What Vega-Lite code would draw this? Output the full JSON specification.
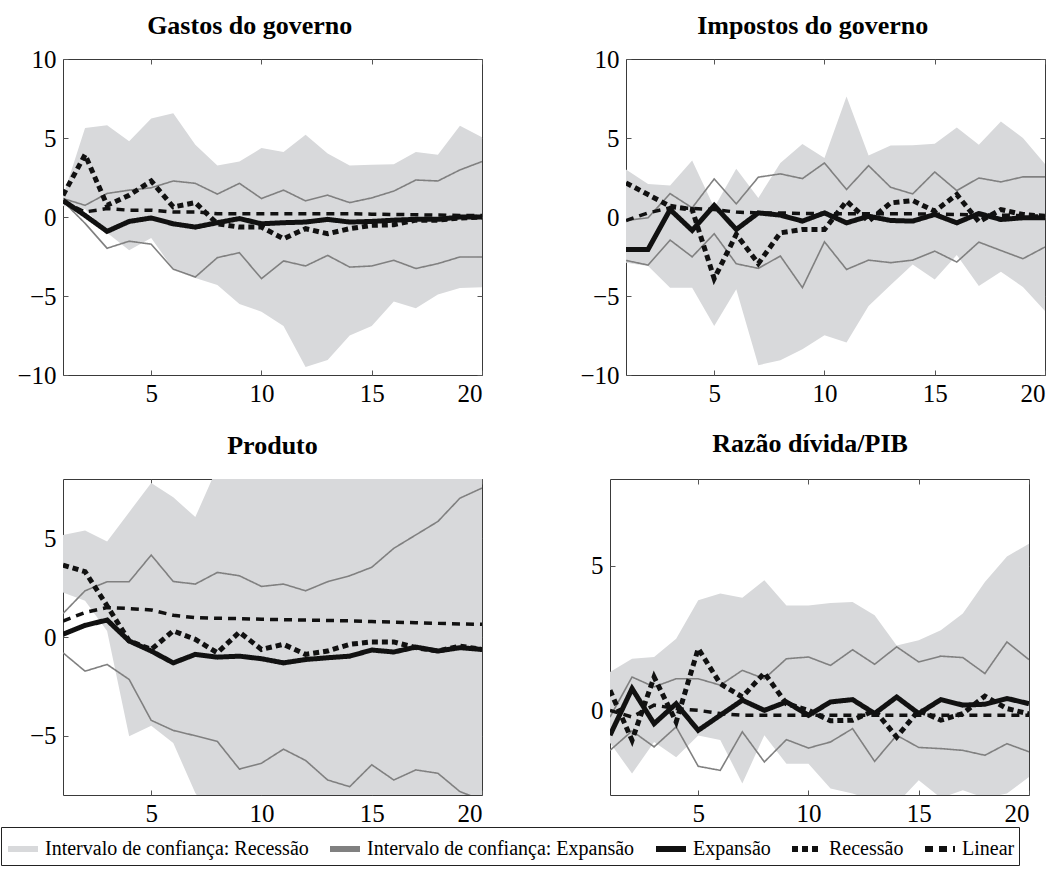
{
"$schema": "https://vega.github.io/schema/vega-lite/v6.json",
"padding": {"left": 0, "top": 12, "right": 5, "bottom": 5},
"background": "white",
"data": {"values": [
{"p":1,"t":1,"lo":0.7,"hi":1.3,"cu":1.17,"cl":1.0,"e":1.05,"r":1.38,"l":0.96},
{"p":1,"t":2,"lo":0.5,"hi":5.64,"cu":0.74,"cl":-0.4,"e":0.1,"r":3.94,"l":0.32},
{"p":1,"t":3,"lo":-1.0,"hi":5.81,"cu":1.49,"cl":-1.98,"e":-0.91,"r":0.74,"l":0.53},
{"p":1,"t":4,"lo":-2.1,"hi":4.79,"cu":1.70,"cl":-1.53,"e":-0.28,"r":1.38,"l":0.43},
{"p":1,"t":5,"lo":-1.33,"hi":6.23,"cu":1.85,"cl":-1.72,"e":-0.06,"r":2.28,"l":0.43},
{"p":1,"t":6,"lo":-3.3,"hi":6.57,"cu":2.28,"cl":-3.3,"e":-0.43,"r":0.64,"l":0.32},
{"p":1,"t":7,"lo":-3.86,"hi":4.57,"cu":2.13,"cl":-3.8,"e":-0.64,"r":0.91,"l":0.32},
{"p":1,"t":8,"lo":-4.3,"hi":3.26,"cu":1.45,"cl":-2.57,"e":-0.36,"r":-0.43,"l":0.21},
{"p":1,"t":9,"lo":-5.5,"hi":3.51,"cu":2.13,"cl":-2.26,"e":-0.1,"r":-0.64,"l":0.21},
{"p":1,"t":10,"lo":-6.0,"hi":4.36,"cu":1.17,"cl":-3.9,"e":-0.43,"r":-0.64,"l":0.21},
{"p":1,"t":11,"lo":-6.9,"hi":4.11,"cu":1.70,"cl":-2.78,"e":-0.36,"r":-1.38,"l":0.21},
{"p":1,"t":12,"lo":-9.5,"hi":5.21,"cu":1.02,"cl":-3.1,"e":-0.32,"r":-0.74,"l":0.21},
{"p":1,"t":13,"lo":-9.05,"hi":4.02,"cu":1.38,"cl":-2.43,"e":-0.15,"r":-1.06,"l":0.21},
{"p":1,"t":14,"lo":-7.5,"hi":3.26,"cu":0.91,"cl":-3.17,"e":-0.32,"r":-0.74,"l":0.21},
{"p":1,"t":15,"lo":-6.9,"hi":3.30,"cu":1.21,"cl":-3.1,"e":-0.28,"r":-0.53,"l":0.18},
{"p":1,"t":16,"lo":-5.35,"hi":3.34,"cu":1.64,"cl":-2.74,"e":-0.2,"r":-0.49,"l":0.16},
{"p":1,"t":17,"lo":-5.77,"hi":4.11,"cu":2.34,"cl":-3.26,"e":-0.15,"r":-0.2,"l":0.14},
{"p":1,"t":18,"lo":-4.9,"hi":3.94,"cu":2.28,"cl":-2.95,"e":-0.15,"r":-0.2,"l":0.12},
{"p":1,"t":19,"lo":-4.5,"hi":5.77,"cu":2.98,"cl":-2.53,"e":0.0,"r":-0.06,"l":0.1},
{"p":1,"t":20,"lo":-4.44,"hi":5.04,"cu":3.51,"cl":-2.53,"e":0.0,"r":0.0,"l":0.1},
{"p":2,"t":1,"lo":-2.9,"hi":3.0,"cu":-0.22,"cl":-2.75,"e":-2.05,"r":2.16,"l":-0.22},
{"p":2,"t":2,"lo":-3.1,"hi":2.09,"cu":-0.05,"cl":-3.04,"e":-2.05,"r":1.42,"l":0.26},
{"p":2,"t":3,"lo":-4.47,"hi":2.0,"cu":1.48,"cl":-1.46,"e":0.47,"r":0.68,"l":0.58},
{"p":2,"t":4,"lo":-4.47,"hi":3.57,"cu":0.58,"cl":-2.52,"e":-0.85,"r":0.47,"l":0.54},
{"p":2,"t":5,"lo":-6.9,"hi":0.6,"cu":2.41,"cl":-1.06,"e":0.73,"r":-3.9,"l":0.47},
{"p":2,"t":6,"lo":-4.58,"hi":3.06,"cu":0.83,"cl":-2.96,"e":-0.79,"r":-1.1,"l":0.31},
{"p":2,"t":7,"lo":-9.38,"hi":1.21,"cu":2.52,"cl":-3.25,"e":0.26,"r":-2.95,"l":0.26},
{"p":2,"t":8,"lo":-9.06,"hi":3.42,"cu":2.73,"cl":-2.47,"e":0.12,"r":-1.0,"l":0.26},
{"p":2,"t":9,"lo":-8.37,"hi":4.62,"cu":2.43,"cl":-4.47,"e":-0.26,"r":-0.79,"l":0.22},
{"p":2,"t":10,"lo":-7.48,"hi":3.74,"cu":3.42,"cl":-1.57,"e":0.26,"r":-0.79,"l":0.22},
{"p":2,"t":11,"lo":-7.95,"hi":7.63,"cu":1.74,"cl":-3.32,"e":-0.37,"r":1.0,"l":0.2},
{"p":2,"t":12,"lo":-5.63,"hi":3.9,"cu":3.25,"cl":-2.73,"e":0.05,"r":-0.26,"l":0.2},
{"p":2,"t":13,"lo":-4.3,"hi":4.52,"cu":1.88,"cl":-2.89,"e":-0.22,"r":0.89,"l":0.2},
{"p":2,"t":14,"lo":-3.0,"hi":4.54,"cu":1.46,"cl":-2.73,"e":-0.26,"r":1.04,"l":0.2},
{"p":2,"t":15,"lo":-3.95,"hi":4.64,"cu":2.85,"cl":-2.16,"e":0.16,"r":0.37,"l":0.18},
{"p":2,"t":16,"lo":-2.41,"hi":5.67,"cu":1.67,"cl":-2.85,"e":-0.37,"r":1.42,"l":0.16},
{"p":2,"t":17,"lo":-4.37,"hi":4.58,"cu":2.47,"cl":-1.59,"e":0.22,"r":-0.3,"l":0.14},
{"p":2,"t":18,"lo":-3.46,"hi":6.05,"cu":2.22,"cl":-2.12,"e":-0.16,"r":0.47,"l":0.12},
{"p":2,"t":19,"lo":-4.43,"hi":5.0,"cu":2.54,"cl":-2.64,"e":-0.05,"r":0.16,"l":0.08},
{"p":2,"t":20,"lo":-5.95,"hi":3.36,"cu":2.54,"cl":-1.9,"e":-0.05,"r":0.05,"l":0.05},
{"p":3,"t":1,"lo":2.25,"hi":5.17,"cu":1.19,"cl":-0.8,"e":0.14,"r":3.64,"l":0.81},
{"p":3,"t":2,"lo":1.83,"hi":5.39,"cu":2.34,"cl":-1.73,"e":0.59,"r":3.31,"l":1.24},
{"p":3,"t":3,"lo":0.3,"hi":4.83,"cu":2.8,"cl":-1.39,"e":0.86,"r":1.58,"l":1.49},
{"p":3,"t":4,"lo":-5.03,"hi":6.32,"cu":2.8,"cl":-2.15,"e":-0.2,"r":-0.2,"l":1.44},
{"p":3,"t":5,"lo":-4.49,"hi":7.8,"cu":4.15,"cl":-4.22,"e":-0.71,"r":-0.63,"l":1.37},
{"p":3,"t":6,"lo":-5.37,"hi":7.08,"cu":2.81,"cl":-4.73,"e":-1.31,"r":0.31,"l":1.1},
{"p":3,"t":7,"lo":-7.9,"hi":6.07,"cu":2.68,"cl":-5.0,"e":-0.88,"r":-0.12,"l":0.98},
{"p":3,"t":8,"lo":-9.5,"hi":8.6,"cu":3.27,"cl":-5.29,"e":-1.02,"r":-0.8,"l":0.95},
{"p":3,"t":9,"lo":-10.5,"hi":10.0,"cu":3.1,"cl":-6.69,"e":-0.97,"r":0.25,"l":0.93},
{"p":3,"t":10,"lo":-11.0,"hi":10.5,"cu":2.56,"cl":-6.39,"e":-1.1,"r":-0.63,"l":0.9},
{"p":3,"t":11,"lo":-11.0,"hi":11.0,"cu":2.68,"cl":-5.68,"e":-1.31,"r":-0.37,"l":0.88},
{"p":3,"t":12,"lo":-11.5,"hi":11.5,"cu":2.34,"cl":-6.25,"e":-1.14,"r":-0.88,"l":0.86},
{"p":3,"t":13,"lo":-12.0,"hi":12.0,"cu":2.8,"cl":-7.24,"e":-1.05,"r":-0.71,"l":0.84},
{"p":3,"t":14,"lo":-12.0,"hi":12.0,"cu":3.1,"cl":-7.58,"e":-0.97,"r":-0.37,"l":0.82},
{"p":3,"t":15,"lo":-12.5,"hi":12.5,"cu":3.53,"cl":-6.47,"e":-0.66,"r":-0.25,"l":0.78},
{"p":3,"t":16,"lo":-13.0,"hi":13.0,"cu":4.49,"cl":-7.24,"e":-0.76,"r":-0.25,"l":0.75},
{"p":3,"t":17,"lo":-13.0,"hi":13.0,"cu":5.17,"cl":-6.73,"e":-0.51,"r":-0.54,"l":0.72},
{"p":3,"t":18,"lo":-13.5,"hi":13.5,"cu":5.85,"cl":-6.9,"e":-0.71,"r":-0.71,"l":0.69},
{"p":3,"t":19,"lo":-14.0,"hi":14.0,"cu":7.03,"cl":-7.83,"e":-0.54,"r":-0.46,"l":0.66},
{"p":3,"t":20,"lo":-14.0,"hi":14.0,"cu":7.54,"cl":-8.25,"e":-0.63,"r":-0.63,"l":0.64},
{"p":4,"t":1,"lo":-1.1,"hi":1.34,"cu":-0.21,"cl":-1.36,"e":-0.84,"r":0.71,"l":0.02},
{"p":4,"t":2,"lo":-2.16,"hi":1.8,"cu":1.17,"cl":-0.69,"e":0.77,"r":-1.01,"l":-0.21},
{"p":4,"t":3,"lo":-1.07,"hi":1.86,"cu":0.83,"cl":-1.24,"e":-0.44,"r":1.17,"l":0.2},
{"p":4,"t":4,"lo":-1.6,"hi":2.49,"cu":1.11,"cl":-0.55,"e":0.25,"r":-0.38,"l":0.08},
{"p":4,"t":5,"lo":-0.85,"hi":3.82,"cu":1.11,"cl":-1.91,"e":-0.67,"r":2.15,"l":0.02},
{"p":4,"t":6,"lo":-1.0,"hi":4.05,"cu":0.89,"cl":-2.05,"e":-0.15,"r":0.94,"l":-0.09},
{"p":4,"t":7,"lo":-2.5,"hi":3.9,"cu":1.4,"cl":-0.72,"e":0.37,"r":0.48,"l":-0.15},
{"p":4,"t":8,"lo":-0.84,"hi":4.51,"cu":1.11,"cl":-1.76,"e":0.02,"r":1.31,"l":-0.15},
{"p":4,"t":9,"lo":-1.82,"hi":3.64,"cu":1.8,"cl":-0.99,"e":0.31,"r":0.25,"l":-0.15},
{"p":4,"t":10,"lo":-1.82,"hi":3.64,"cu":1.86,"cl":-1.28,"e":-0.15,"r":0.02,"l":-0.15},
{"p":4,"t":11,"lo":-2.68,"hi":3.72,"cu":1.57,"cl":-1.07,"e":0.31,"r":-0.34,"l":-0.15},
{"p":4,"t":12,"lo":-2.85,"hi":3.76,"cu":2.11,"cl":-0.61,"e":0.39,"r":-0.32,"l":-0.15},
{"p":4,"t":13,"lo":-3.1,"hi":3.3,"cu":1.61,"cl":-1.74,"e":-0.09,"r":0.02,"l":-0.15},
{"p":4,"t":14,"lo":-3.2,"hi":2.26,"cu":2.21,"cl":-0.84,"e":0.48,"r":-0.9,"l":-0.15},
{"p":4,"t":15,"lo":-2.39,"hi":2.44,"cu":1.69,"cl":-1.26,"e":-0.09,"r":0.02,"l":-0.15},
{"p":4,"t":16,"lo":-3.0,"hi":2.78,"cu":1.89,"cl":-1.3,"e":0.39,"r":-0.32,"l":-0.15},
{"p":4,"t":17,"lo":-2.74,"hi":3.36,"cu":1.84,"cl":-1.36,"e":0.2,"r":-0.09,"l":-0.15},
{"p":4,"t":18,"lo":-3.0,"hi":4.45,"cu":1.29,"cl":-1.53,"e":0.23,"r":0.51,"l":-0.15},
{"p":4,"t":19,"lo":-2.85,"hi":5.33,"cu":2.38,"cl":-1.13,"e":0.43,"r":0.08,"l":-0.15},
{"p":4,"t":20,"lo":-2.28,"hi":5.77,"cu":1.77,"cl":-1.41,"e":0.25,"r":-0.1,"l":-0.15}
]},
"spacing": 23,
"vconcat": [
{"hconcat": [
{"title": {"text": "Gastos do governo", "offset": 8, "frame": "bounds"}, "width": 419, "height": 316,
 "transform": [{"filter": "datum.p == 1"}],
 "layer": [
  {"mark": {"type": "area", "clip": true, "opacity": 1},
   "encoding": {
    "x": {"field": "t", "type": "quantitative", "scale": {"domain": [1,20], "nice": false, "zero": false}, "axis": {"orient": "bottom", "values": [5,10,15,20]}},
    "y": {"field": "lo", "type": "quantitative", "scale": {"domain": [-10,10], "nice": false, "zero": false}, "axis": {"orient": "left", "values": [-10,-5,0,5,10]}},
    "y2": {"field": "hi"},
    "color": {"datum": "Intervalo de confiança: Recessão", "type": "nominal",
      "scale": {"domain": ["Intervalo de confiança: Recessão","Intervalo de confiança: Expansão","Expansão","Recessão","Linear"], "range": ["#d8d9db","#808080","#111111","#111111","#111111"]},
      "legend": {"title": null, "orient": "none", "legendX": -62, "legendY": 768, "direction": "horizontal", "columns": 5, "padding": 4, "strokeColor": "#222222", "fillColor": "white", "columnPadding": 9, "labelOffset": 4, "symbolType": "stroke", "symbolSize": 900, "symbolStrokeWidth": 6, "labelFont": "Liberation Serif", "labelFontSize": 20, "labelColor": "black", "labelLimit": 400}}}},
  {"mark": {"type": "line", "clip": true, "strokeWidth": 1.6},
   "encoding": {
    "x": {"field": "t", "type": "quantitative", "scale": {"domain": [1,20], "nice": false, "zero": false}, "axis": {"orient": "top", "values": [5,10,15,20], "labels": false}},
    "y": {"field": "cu", "type": "quantitative", "scale": {"domain": [-10,10], "nice": false, "zero": false}, "axis": {"orient": "right", "values": [-10,-5,0,5,10], "labels": false}},
    "color": {"datum": "Intervalo de confiança: Expansão", "type": "nominal"},
    "strokeDash": {"datum": "Intervalo de confiança: Expansão", "type": "nominal", "scale": {"domain": ["Intervalo de confiança: Recessão","Intervalo de confiança: Expansão","Expansão","Recessão","Linear"], "range": [[1,0],[1,0],[1,0],[6,4],[8,6]]}}}},
  {"mark": {"type": "line", "clip": true, "strokeWidth": 1.6},
   "encoding": {
    "x": {"field": "t", "type": "quantitative", "scale": {"domain": [1,20], "nice": false, "zero": false}, "axis": null},
    "y": {"field": "cl", "type": "quantitative", "scale": {"domain": [-10,10], "nice": false, "zero": false}, "axis": null},
    "color": {"datum": "Intervalo de confiança: Expansão", "type": "nominal"},
    "strokeDash": {"datum": "Intervalo de confiança: Expansão", "type": "nominal"}}},
  {"mark": {"type": "line", "clip": true, "strokeWidth": 5},
   "encoding": {
    "x": {"field": "t", "type": "quantitative", "scale": {"domain": [1,20], "nice": false, "zero": false}, "axis": null},
    "y": {"field": "e", "type": "quantitative", "scale": {"domain": [-10,10], "nice": false, "zero": false}, "axis": null},
    "color": {"datum": "Expansão", "type": "nominal"},
    "strokeDash": {"datum": "Expansão", "type": "nominal"}}},
  {"mark": {"type": "line", "clip": true, "strokeWidth": 5},
   "encoding": {
    "x": {"field": "t", "type": "quantitative", "scale": {"domain": [1,20], "nice": false, "zero": false}, "axis": null},
    "y": {"field": "r", "type": "quantitative", "scale": {"domain": [-10,10], "nice": false, "zero": false}, "axis": null},
    "color": {"datum": "Recessão", "type": "nominal"},
    "strokeDash": {"datum": "Recessão", "type": "nominal"}}},
  {"mark": {"type": "line", "clip": true, "strokeWidth": 3.5},
   "encoding": {
    "x": {"field": "t", "type": "quantitative", "scale": {"domain": [1,20], "nice": false, "zero": false}, "axis": null},
    "y": {"field": "l", "type": "quantitative", "scale": {"domain": [-10,10], "nice": false, "zero": false}, "axis": null},
    "color": {"datum": "Linear", "type": "nominal"},
    "strokeDash": {"datum": "Linear", "type": "nominal"}}}
 ],
 "resolve": {"axis": {"x": "independent", "y": "independent"}}},
{"title": {"text": "Impostos do governo", "offset": 8, "frame": "bounds"}, "width": 419, "height": 316,
 "transform": [{"filter": "datum.p == 2"}],
 "layer": [
  {"mark": {"type": "area", "clip": true, "opacity": 1},
   "encoding": {
    "x": {"field": "t", "type": "quantitative", "scale": {"domain": [1,20], "nice": false, "zero": false}, "axis": {"orient": "bottom", "values": [5,10,15,20]}},
    "y": {"field": "lo", "type": "quantitative", "scale": {"domain": [-10,10], "nice": false, "zero": false}, "axis": {"orient": "left", "values": [-10,-5,0,5,10]}},
    "y2": {"field": "hi"},
    "color": {"datum": "Intervalo de confiança: Recessão", "type": "nominal"}}},
  {"mark": {"type": "line", "clip": true, "strokeWidth": 1.6},
   "encoding": {
    "x": {"field": "t", "type": "quantitative", "scale": {"domain": [1,20], "nice": false, "zero": false}, "axis": {"orient": "top", "values": [5,10,15,20], "labels": false}},
    "y": {"field": "cu", "type": "quantitative", "scale": {"domain": [-10,10], "nice": false, "zero": false}, "axis": {"orient": "right", "values": [-10,-5,0,5,10], "labels": false}},
    "color": {"datum": "Intervalo de confiança: Expansão", "type": "nominal"},
    "strokeDash": {"datum": "Intervalo de confiança: Expansão", "type": "nominal"}}},
  {"mark": {"type": "line", "clip": true, "strokeWidth": 1.6},
   "encoding": {
    "x": {"field": "t", "type": "quantitative", "scale": {"domain": [1,20], "nice": false, "zero": false}, "axis": null},
    "y": {"field": "cl", "type": "quantitative", "scale": {"domain": [-10,10], "nice": false, "zero": false}, "axis": null},
    "color": {"datum": "Intervalo de confiança: Expansão", "type": "nominal"},
    "strokeDash": {"datum": "Intervalo de confiança: Expansão", "type": "nominal"}}},
  {"mark": {"type": "line", "clip": true, "strokeWidth": 5},
   "encoding": {
    "x": {"field": "t", "type": "quantitative", "scale": {"domain": [1,20], "nice": false, "zero": false}, "axis": null},
    "y": {"field": "e", "type": "quantitative", "scale": {"domain": [-10,10], "nice": false, "zero": false}, "axis": null},
    "color": {"datum": "Expansão", "type": "nominal"},
    "strokeDash": {"datum": "Expansão", "type": "nominal"}}},
  {"mark": {"type": "line", "clip": true, "strokeWidth": 5},
   "encoding": {
    "x": {"field": "t", "type": "quantitative", "scale": {"domain": [1,20], "nice": false, "zero": false}, "axis": null},
    "y": {"field": "r", "type": "quantitative", "scale": {"domain": [-10,10], "nice": false, "zero": false}, "axis": null},
    "color": {"datum": "Recessão", "type": "nominal"},
    "strokeDash": {"datum": "Recessão", "type": "nominal"}}},
  {"mark": {"type": "line", "clip": true, "strokeWidth": 3.5},
   "encoding": {
    "x": {"field": "t", "type": "quantitative", "scale": {"domain": [1,20], "nice": false, "zero": false}, "axis": null},
    "y": {"field": "l", "type": "quantitative", "scale": {"domain": [-10,10], "nice": false, "zero": false}, "axis": null},
    "color": {"datum": "Linear", "type": "nominal"},
    "strokeDash": {"datum": "Linear", "type": "nominal"}}}
 ],
 "resolve": {"axis": {"x": "independent", "y": "independent"}}}
], "spacing": 144, "bounds": "flush"},
{"hconcat": [
{"title": {"text": "Produto", "offset": 20, "frame": "group"}, "width": 419, "height": 316,
 "transform": [{"filter": "datum.p == 3"}],
 "layer": [
  {"mark": {"type": "area", "clip": true, "opacity": 1},
   "encoding": {
    "x": {"field": "t", "type": "quantitative", "scale": {"domain": [1,20], "nice": false, "zero": false}, "axis": {"orient": "bottom", "values": [5,10,15,20]}},
    "y": {"field": "lo", "type": "quantitative", "scale": {"domain": [-8,8], "nice": false, "zero": false}, "axis": {"orient": "left", "values": [-5,0,5]}},
    "y2": {"field": "hi"},
    "color": {"datum": "Intervalo de confiança: Recessão", "type": "nominal"}}},
  {"mark": {"type": "line", "clip": true, "strokeWidth": 1.6},
   "encoding": {
    "x": {"field": "t", "type": "quantitative", "scale": {"domain": [1,20], "nice": false, "zero": false}, "axis": {"orient": "top", "values": [5,10,15,20], "labels": false}},
    "y": {"field": "cu", "type": "quantitative", "scale": {"domain": [-8,8], "nice": false, "zero": false}, "axis": {"orient": "right", "values": [-5,0,5], "labels": false}},
    "color": {"datum": "Intervalo de confiança: Expansão", "type": "nominal"},
    "strokeDash": {"datum": "Intervalo de confiança: Expansão", "type": "nominal"}}},
  {"mark": {"type": "line", "clip": true, "strokeWidth": 1.6},
   "encoding": {
    "x": {"field": "t", "type": "quantitative", "scale": {"domain": [1,20], "nice": false, "zero": false}, "axis": null},
    "y": {"field": "cl", "type": "quantitative", "scale": {"domain": [-8,8], "nice": false, "zero": false}, "axis": null},
    "color": {"datum": "Intervalo de confiança: Expansão", "type": "nominal"},
    "strokeDash": {"datum": "Intervalo de confiança: Expansão", "type": "nominal"}}},
  {"mark": {"type": "line", "clip": true, "strokeWidth": 5},
   "encoding": {
    "x": {"field": "t", "type": "quantitative", "scale": {"domain": [1,20], "nice": false, "zero": false}, "axis": null},
    "y": {"field": "e", "type": "quantitative", "scale": {"domain": [-8,8], "nice": false, "zero": false}, "axis": null},
    "color": {"datum": "Expansão", "type": "nominal"},
    "strokeDash": {"datum": "Expansão", "type": "nominal"}}},
  {"mark": {"type": "line", "clip": true, "strokeWidth": 5},
   "encoding": {
    "x": {"field": "t", "type": "quantitative", "scale": {"domain": [1,20], "nice": false, "zero": false}, "axis": null},
    "y": {"field": "r", "type": "quantitative", "scale": {"domain": [-8,8], "nice": false, "zero": false}, "axis": null},
    "color": {"datum": "Recessão", "type": "nominal"},
    "strokeDash": {"datum": "Recessão", "type": "nominal"}}},
  {"mark": {"type": "line", "clip": true, "strokeWidth": 3.5},
   "encoding": {
    "x": {"field": "t", "type": "quantitative", "scale": {"domain": [1,20], "nice": false, "zero": false}, "axis": null},
    "y": {"field": "l", "type": "quantitative", "scale": {"domain": [-8,8], "nice": false, "zero": false}, "axis": null},
    "color": {"datum": "Linear", "type": "nominal"},
    "strokeDash": {"datum": "Linear", "type": "nominal"}}}
 ],
 "resolve": {"axis": {"x": "independent", "y": "independent"}}},
{"title": {"text": "Razão dívida/PIB", "offset": 22, "frame": "bounds"}, "width": 419, "height": 316,
 "transform": [{"filter": "datum.p == 4"}],
 "layer": [
  {"mark": {"type": "area", "clip": true, "opacity": 1},
   "encoding": {
    "x": {"field": "t", "type": "quantitative", "scale": {"domain": [1,20], "nice": false, "zero": false}, "axis": {"orient": "bottom", "values": [5,10,15,20]}},
    "y": {"field": "lo", "type": "quantitative", "scale": {"domain": [-2.9,8], "nice": false, "zero": false}, "axis": {"orient": "left", "values": [0,5]}},
    "y2": {"field": "hi"},
    "color": {"datum": "Intervalo de confiança: Recessão", "type": "nominal"}}},
  {"mark": {"type": "line", "clip": true, "strokeWidth": 1.6},
   "encoding": {
    "x": {"field": "t", "type": "quantitative", "scale": {"domain": [1,20], "nice": false, "zero": false}, "axis": {"orient": "top", "values": [5,10,15,20], "labels": false}},
    "y": {"field": "cu", "type": "quantitative", "scale": {"domain": [-2.9,8], "nice": false, "zero": false}, "axis": {"orient": "right", "values": [0,5], "labels": false}},
    "color": {"datum": "Intervalo de confiança: Expansão", "type": "nominal"},
    "strokeDash": {"datum": "Intervalo de confiança: Expansão", "type": "nominal"}}},
  {"mark": {"type": "line", "clip": true, "strokeWidth": 1.6},
   "encoding": {
    "x": {"field": "t", "type": "quantitative", "scale": {"domain": [1,20], "nice": false, "zero": false}, "axis": null},
    "y": {"field": "cl", "type": "quantitative", "scale": {"domain": [-2.9,8], "nice": false, "zero": false}, "axis": null},
    "color": {"datum": "Intervalo de confiança: Expansão", "type": "nominal"},
    "strokeDash": {"datum": "Intervalo de confiança: Expansão", "type": "nominal"}}},
  {"mark": {"type": "line", "clip": true, "strokeWidth": 5},
   "encoding": {
    "x": {"field": "t", "type": "quantitative", "scale": {"domain": [1,20], "nice": false, "zero": false}, "axis": null},
    "y": {"field": "e", "type": "quantitative", "scale": {"domain": [-2.9,8], "nice": false, "zero": false}, "axis": null},
    "color": {"datum": "Expansão", "type": "nominal"},
    "strokeDash": {"datum": "Expansão", "type": "nominal"}}},
  {"mark": {"type": "line", "clip": true, "strokeWidth": 5},
   "encoding": {
    "x": {"field": "t", "type": "quantitative", "scale": {"domain": [1,20], "nice": false, "zero": false}, "axis": null},
    "y": {"field": "r", "type": "quantitative", "scale": {"domain": [-2.9,8], "nice": false, "zero": false}, "axis": null},
    "color": {"datum": "Recessão", "type": "nominal"},
    "strokeDash": {"datum": "Recessão", "type": "nominal"}}},
  {"mark": {"type": "line", "clip": true, "strokeWidth": 3.5},
   "encoding": {
    "x": {"field": "t", "type": "quantitative", "scale": {"domain": [1,20], "nice": false, "zero": false}, "axis": null},
    "y": {"field": "l", "type": "quantitative", "scale": {"domain": [-2.9,8], "nice": false, "zero": false}, "axis": null},
    "color": {"datum": "Linear", "type": "nominal"},
    "strokeDash": {"datum": "Linear", "type": "nominal"}}}
 ],
 "resolve": {"axis": {"x": "independent", "y": "independent"}}}
], "spacing": 128, "bounds": "flush"}
],
"config": {
 "view": {"stroke": "#3a3a3a", "strokeWidth": 1},
 "axis": {"domain": false, "grid": false, "title": null, "labelFont": "Liberation Serif", "labelFontSize": 25, "labelColor": "black", "tickColor": "#555555", "tickSize": -5, "tickWidth": 1},
 "axisX": {"labelPadding": 11},
 "axisY": {"labelPadding": 12},
 "title": {"font": "Liberation Serif", "fontSize": 26, "fontWeight": "bold", "color": "black"},
 "line": {"strokeCap": "butt", "strokeJoin": "miter"}
}
}
